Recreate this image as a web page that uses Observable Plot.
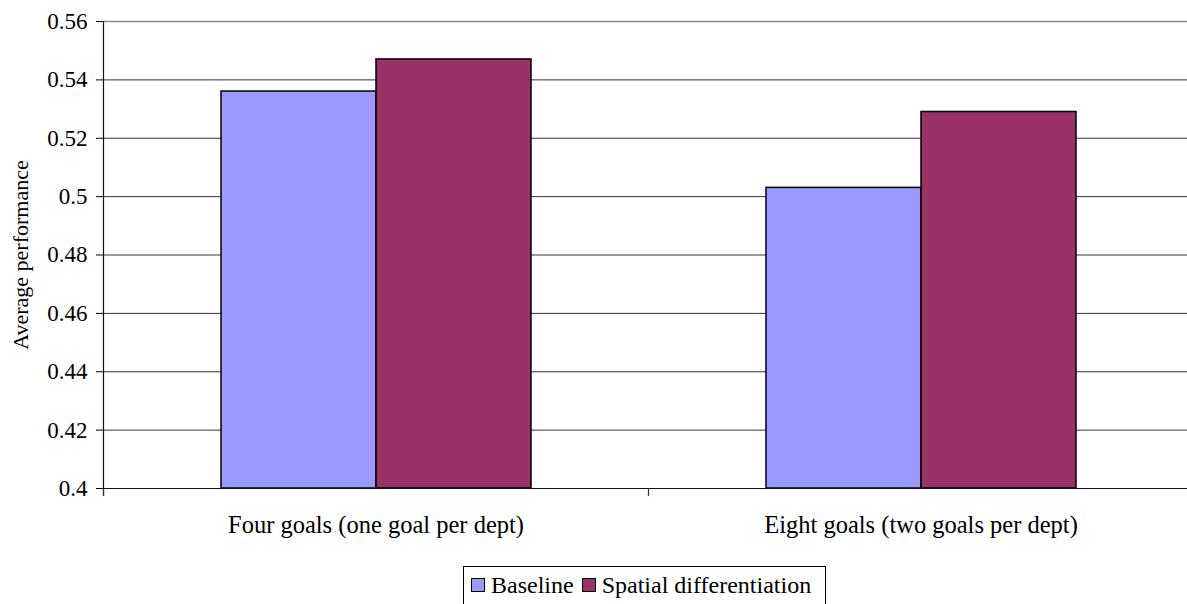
<!DOCTYPE html>
<html>
<head>
<meta charset="utf-8">
<script src="https://cdn.jsdelivr.net/npm/d3@7"></script>
<script src="https://cdn.jsdelivr.net/npm/@observablehq/plot@0.6"></script>
<style>
  html, body { margin: 0; padding: 0; background: white; overflow: hidden; }
  #wrap { position: relative; width: 1187px; height: 604px; overflow: hidden; }
  #chart svg { max-width: none !important; }
  #legend {
    position: absolute; left: 463px; top: 566px; width: 363px; height: 44px;
    border: 1px solid #000; box-sizing: border-box;
    font-family: "Liberation Serif", "Times New Roman", serif; font-size: 24px;
    display: flex; align-items: center; padding-left: 7px; padding-bottom: 6px; white-space: nowrap;
  }
  #legend .item { display: flex; align-items: center; margin-right: 8px; }
  #legend .sw { width: 12px; height: 12px; border: 1px solid #000; margin-right: 6px; }
</style>
</head>
<body>
<div id="wrap"><div id="chart"></div><div id="legend"></div></div>
<script>
const categories = ["Four goals (one goal per dept)", "Eight goals (two goals per dept)"];
const series = ["Baseline", "Spatial differentiation"];
const baselineValues = [0.536, 0.503];
const spatialValues = [0.547, 0.529];
const yTicks = [0.4, 0.42, 0.44, 0.46, 0.48, 0.5, 0.52, 0.54, 0.56];
const yTickLabels = ["0.4", "0.42", "0.44", "0.46", "0.48", "0.5", "0.52", "0.54", "0.56"];
const colors = ["#9999FF", "#993366"];
const yLabel = "Average performance";

const data = categories.flatMap((c, i) => [
  {category: c, series: series[0], value: baselineValues[i]},
  {category: c, series: series[1], value: spatialValues[i]}
]);

const H = 545, MT = 21, MB = 57;
const plotH = H - MT - MB;

const chart = Plot.plot({
  width: 1200,
  height: H,
  marginLeft: 103,
  marginRight: 7,
  marginTop: MT,
  marginBottom: MB,
  style: {fontFamily: "'Liberation Serif', 'Times New Roman', serif", background: "white", color: "black", overflow: "visible"},
  fx: {domain: categories, padding: 0, label: null, axis: null},
  x: {domain: series, paddingInner: 0, paddingOuter: 0.7525, axis: null},
  y: {domain: [0.4, 0.56], axis: null},
  color: {domain: series, range: colors},
  marks: [
    Plot.ruleY(yTicks.slice(1, -1), {stroke: "#333", strokeWidth: 1}),
    Plot.ruleY(yTicks.slice(-1), {stroke: "#888", strokeWidth: 1.5}),
    Plot.barY(data, {fx: "category", x: "series", y1: 0.4, y2: "value", fill: "series", stroke: "black", strokeWidth: 1.5}),
    Plot.ruleY([0.4], {stroke: "#111", strokeWidth: 1.2}),
    Plot.frame({anchor: "left", facetAnchor: "left", insetBottom: -7, stroke: "#111", strokeWidth: 1.2}),
    Plot.frame({anchor: "left", insetTop: plotH, insetBottom: -7, stroke: "#333", strokeWidth: 1.2}),
    Plot.axisY({ticks: yTicks, tickSize: 7, tickPadding: 9, tickFormat: (d) => yTickLabels[yTicks.indexOf(d)], fontSize: 23, label: null}),
    Plot.axisFx({anchor: "bottom", tickSize: 0, tickPadding: 27, label: null, fontSize: 24.5}),
    Plot.text([yLabel], {frameAnchor: "left", textAnchor: "middle", rotate: -90, dx: -83, fontSize: 22, facetAnchor: "left"})
  ]
});
document.getElementById("chart").appendChild(chart);

const legend = document.getElementById("legend");
series.forEach((s, i) => {
  const item = document.createElement("div");
  item.className = "item";
  const sw = document.createElement("div");
  sw.className = "sw";
  sw.style.background = colors[i];
  const t = document.createElement("span");
  t.textContent = s;
  item.appendChild(sw);
  item.appendChild(t);
  legend.appendChild(item);
});
</script>
</body>
</html>
